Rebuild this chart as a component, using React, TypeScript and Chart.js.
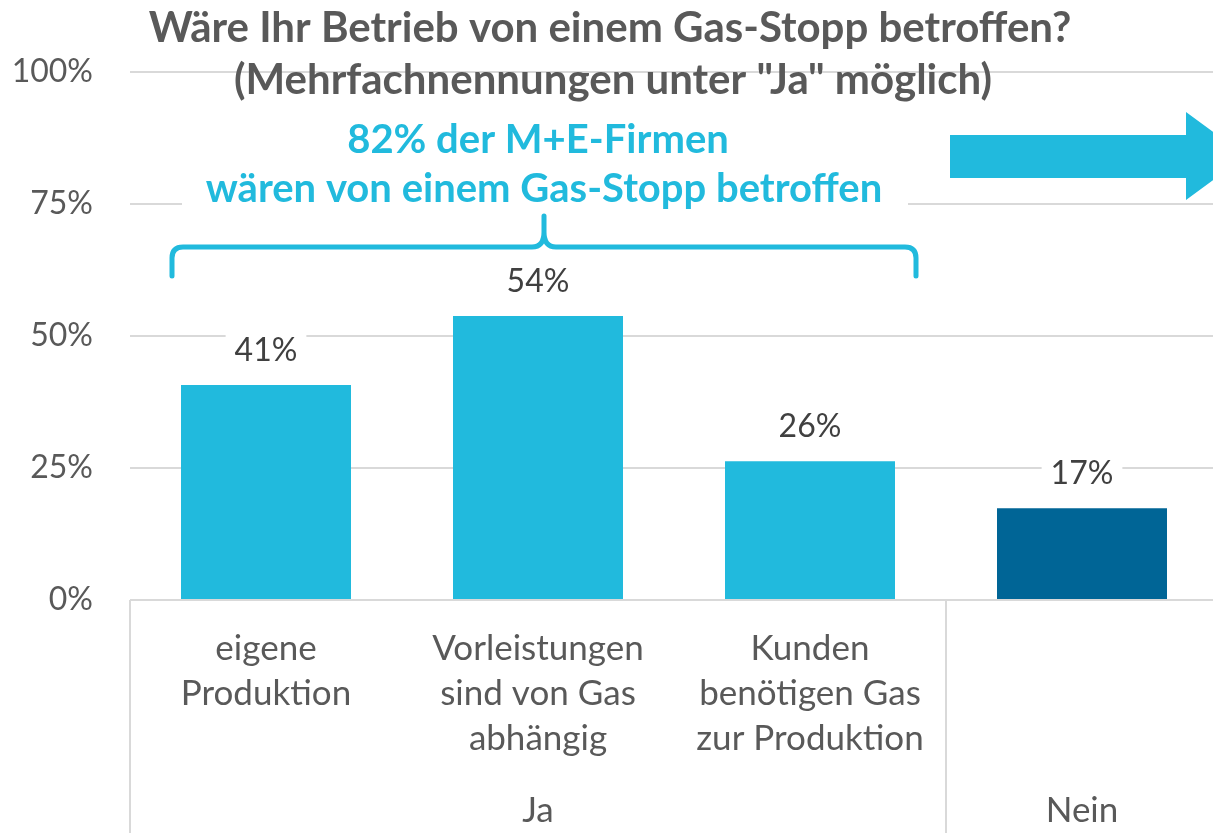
import React, { useEffect, useRef } from "react";
import { Chart, registerables } from "chart.js";

Chart.register(...registerables);

const categoryLines: string[][] = [
  ["eigene", "Produktion"],
  ["Vorleistungen", "sind von Gas", "abhängig"],
  ["Kunden", "benötigen Gas", "zur Produktion"],
  [""],
];
const groupLabels = ["Ja", "Nein"];
const groupSpans: number[][] = [
  [0, 2],
  [3, 3],
];
const values = [40.7, 53.8, 26.3, 17.4];
const valueLabels = ["41%", "54%", "26%", "17%"];
const barColors = ["#21BADD", "#21BADD", "#21BADD", "#006596"];
const yTickValues = [0, 25, 50, 75, 100];
const titleLines = [
  "Wäre Ihr Betrieb von einem Gas-Stopp betroffen?",
  '(Mehrfachnennungen unter "Ja" möglich)',
];
const noteLines = ["82% der M+E-Firmen", "wären von einem Gas-Stopp betroffen"];

const FONT = "Lato, 'Open Sans', sans-serif";
const GRID = "#D9D9D9";
const TEXT = "#595959";
const LABEL = "#404040";
const CYAN = "#21BADD";

const overlay = {
  id: "overlay",
  afterDatasetsDraw(chart: any) {
    const ctx = chart.ctx;
    const meta = chart.getDatasetMeta(0);
    ctx.save();
    ctx.font = `32px ${FONT}`;
    ctx.textAlign = "center";
    ctx.textBaseline = "alphabetic";
    meta.data.forEach((bar: any, i: number) => {
      const w = ctx.measureText(valueLabels[i]).width;
      ctx.fillStyle = "#FFFFFF";
      ctx.fillRect(bar.x - w / 2 - 9, bar.y - 52, w + 18, 38);
      ctx.fillStyle = LABEL;
      ctx.fillText(valueLabels[i], bar.x, bar.y - 24);
    });
    ctx.restore();
  },
  afterDraw(chart: any) {
    const ctx = chart.ctx;
    const x = chart.scales.x;
    const area = chart.chartArea;
    const step = x.getPixelForValue(1) - x.getPixelForValue(0);
    const bottom = chart.height;
    ctx.save();

    // axis lines below the plot
    ctx.strokeStyle = GRID;
    ctx.lineWidth = 2;
    ctx.beginPath();
    ctx.moveTo(area.left, area.bottom);
    ctx.lineTo(area.right, area.bottom);
    ctx.stroke();
    const seps = [area.left, x.getPixelForValue(2) + step / 2];
    seps.forEach((sx) => {
      ctx.beginPath();
      ctx.moveTo(sx, area.bottom);
      ctx.lineTo(sx, bottom);
      ctx.stroke();
    });

    // category labels
    ctx.font = `35px ${FONT}`;
    ctx.fillStyle = TEXT;
    ctx.textAlign = "center";
    ctx.textBaseline = "middle";
    categoryLines.forEach((lines, i) => {
      lines.forEach((l, j) => {
        ctx.fillText(l, x.getPixelForValue(i), area.bottom + 49 + j * 45);
      });
    });
    groupSpans.forEach(([a, b], k) => {
      const cx = (x.getPixelForValue(a) + x.getPixelForValue(b)) / 2;
      ctx.fillText(groupLabels[k], cx, area.bottom + 211);
    });

    // title
    ctx.font = `bold 42px ${FONT}`;
    ctx.fillStyle = TEXT;
    ctx.fillText(titleLines[0], 610, 28);
    ctx.fillText(titleLines[1], 613, 80);

    // annotation box
    ctx.fillStyle = "#FFFFFF";
    ctx.fillRect(182, 168, 726, 46);
    ctx.font = `bold 40px ${FONT}`;
    ctx.fillStyle = CYAN;
    ctx.fillText(noteLines[0], 538, 140);
    ctx.fillText(noteLines[1], 544, 189);

    // brace
    ctx.strokeStyle = CYAN;
    ctx.lineWidth = 5;
    ctx.lineCap = "round";
    ctx.lineJoin = "round";
    const bl = x.getPixelForValue(0) - 94;
    const br = x.getPixelForValue(2) + 106;
    const bc = (bl + br) / 2;
    ctx.beginPath();
    ctx.moveTo(bl, 276);
    ctx.lineTo(bl, 258);
    ctx.quadraticCurveTo(bl, 247, bl + 11, 247);
    ctx.lineTo(bc - 12, 247);
    ctx.quadraticCurveTo(bc, 247, bc, 232);
    ctx.lineTo(bc, 216);
    ctx.moveTo(bc, 232);
    ctx.quadraticCurveTo(bc, 247, bc + 12, 247);
    ctx.lineTo(br - 11, 247);
    ctx.quadraticCurveTo(br, 247, br, 258);
    ctx.lineTo(br, 276);
    ctx.stroke();

    // arrow
    ctx.fillStyle = CYAN;
    ctx.beginPath();
    ctx.moveTo(950, 135);
    ctx.lineTo(1186, 135);
    ctx.lineTo(1186, 112);
    ctx.lineTo(1246, 156);
    ctx.lineTo(1186, 200);
    ctx.lineTo(1186, 178);
    ctx.lineTo(950, 178);
    ctx.closePath();
    ctx.fill();

    ctx.restore();
  },
};

export default function App() {
  const ref = useRef<HTMLCanvasElement>(null);
  useEffect(() => {
    if (!ref.current) return;
    const chart = new Chart(ref.current, {
      type: "bar",
      data: {
        labels: categoryLines.map((l) => l.join(" ")),
        datasets: [
          {
            data: values,
            backgroundColor: barColors,
            borderWidth: 0,
            barPercentage: 0.625,
            categoryPercentage: 1,
          },
        ],
      },
      options: {
        animation: false,
        responsive: false,
        maintainAspectRatio: false,
        layout: { padding: { top: 72, bottom: 233, left: 0, right: 0 } },
        plugins: {
          legend: { display: false },
          tooltip: { enabled: false },
          title: { display: false },
        },
        scales: {
          x: {
            ticks: { display: false },
            grid: { display: false },
            border: { display: false },
            afterFit: (s: any) => {
              s.height = 0;
            },
          },
          y: {
            min: 0,
            max: 100,
            afterBuildTicks: (s: any) => {
              s.ticks = yTickValues.map((v) => ({ value: v }));
            },
            ticks: {
              callback: (v: any) => `${v}%`,
              color: TEXT,
              font: { family: FONT, size: 32 },
              padding: 37,
            },
            grid: { color: GRID, lineWidth: 2, drawTicks: false },
            border: { display: false },
            afterFit: (s: any) => {
              s.width = 130;
            },
          },
        },
      },
      plugins: [overlay],
    });
    return () => chart.destroy();
  }, []);
  return (
    <div
      style={{
        position: "fixed",
        left: 0,
        top: 0,
        width: 1213,
        height: 833,
        overflow: "hidden",
        background: "#fff",
      }}
    >
      <canvas ref={ref} width={1218} height={833} style={{ display: "block" }} />
    </div>
  );
}
